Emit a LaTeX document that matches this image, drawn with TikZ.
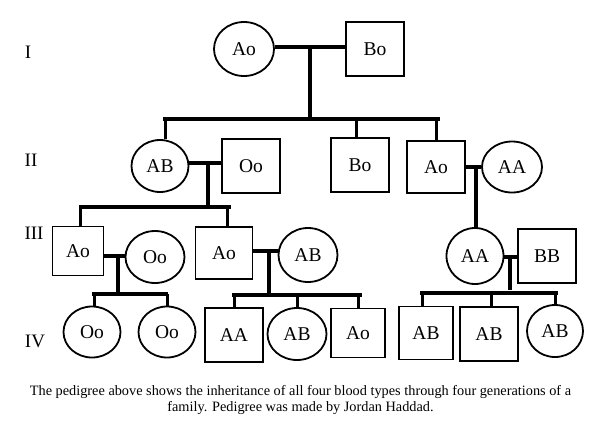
\documentclass[tikz,border=0pt]{standalone}
\usepackage{fontspec}
\setmainfont{Liberation Serif}
\usetikzlibrary{shapes.geometric}

\begin{document}
\begin{tikzpicture}[x=1pt,y=-1pt,
  fem/.style={draw,ellipse,line width=1.8pt,inner sep=0pt,minimum width=58pt,minimum height=53pt,font=\fontsize{19.5}{22}\selectfont},
  male/.style={draw,rectangle,line width=1.8pt,inner sep=0pt,minimum width=58pt,minimum height=54pt,font=\fontsize{19.5}{22}\selectfont},
  gen/.style={font=\fontsize{19}{22}\selectfont},
  couple/.style={line width=3.8pt},
  bar/.style={line width=4.8pt},
  drop/.style={line width=3pt}]
  \useasboundingbox (0,0) rectangle (602,424);

  % generation labels
  \draw (28,52) node[gen] (I) {I};
  \draw (31,160) node[gen] (II) {II};
  \draw (34,233) node[gen] (III) {III};
  \draw (35,341) node[gen] (IV) {IV};

  % generation I
  \draw (244,49) node[fem,minimum width=60pt,minimum height=54pt] (ao1) {Ao};
  \draw (375,49) node[male] (bo1) {Bo};
  \coordinate (m1) at (310,47);
  \coordinate (bar1) at (163,119);
  \coordinate (bar1e) at (440,119);

  % generation II
  \draw (160,166) node[fem,minimum width=57pt,minimum height=52pt] (ab2) {AB};
  \draw (251,166) node[male] (oo2) {Oo};
  \draw (360,165) node[male] (bo2) {Bo};
  \draw (436,167) node[male,minimum height=52pt] (ao2) {Ao};
  \draw (512,167) node[fem,minimum width=60pt,minimum height=51pt] (aa2) {AA};
  \coordinate (m2) at (208,163);
  \coordinate (m3) at (476,167);
  \coordinate (bar2) at (79,207);
  \coordinate (bar2e) at (231,207);

  % generation III
  \draw (78,251) node[male,minimum width=51pt,minimum height=49pt] (ao3) {Ao};
  \draw (155,257) node[fem,minimum width=59pt,minimum height=52pt] (oo3) {Oo};
  \draw (224,253) node[male,minimum width=57pt,minimum height=52pt] (ao3b) {Ao};
  \draw (308,255) node[fem,minimum width=59pt,minimum height=54pt] (ab3) {AB};
  \draw (475,256) node[fem,minimum width=57pt,minimum height=56pt] (aa3) {AA};
  \draw (547,256) node[male] (bb3) {BB};
  \coordinate (m4) at (118,256);
  \coordinate (m5) at (269,251);
  \coordinate (m6) at (510,257);
  \coordinate (bar4) at (92,294);
  \coordinate (bar4e) at (168,294);
  \coordinate (bar5) at (232,295);
  \coordinate (bar5e) at (362,295);
  \coordinate (bar6) at (420,293);
  \coordinate (bar6e) at (558,293);

  % generation IV
  \draw (92,332) node[fem,minimum width=57pt,minimum height=51pt] (oo4) {Oo};
  \draw (167,332) node[fem,minimum width=57pt,minimum height=51pt] (oo4b) {Oo};
  \draw (234,335) node[male] (aa4) {AA};
  \draw (297,334) node[fem,minimum width=59pt,minimum height=52pt] (ab4) {AB};
  \draw (358,333) node[male,minimum width=54pt,minimum height=49pt] (ao4) {Ao};
  \draw (426,333) node[male,minimum width=54pt,minimum height=53pt] (ab4b) {AB};
  \draw (489,334) node[male] (ab4c) {AB};
  \draw (555,331) node[fem,minimum width=56pt,minimum height=52pt] (ab4d) {AB};

  % couples
  \draw[couple] (ao1.east |- m1) -- (bo1.west |- m1);
  \draw[couple] (ab2.east |- m2) -- (oo2.west |- m2);
  \draw[couple] (ao2.east |- m3) -- (aa2.west |- m3);
  \draw[couple] (ao3.east |- m4) -- (oo3.west |- m4);
  \draw[couple] (ao3b.east |- m5) -- (ab3.west |- m5);
  \draw[couple] (aa3.east |- m6) -- (bb3.west |- m6);

  % descent lines
  \draw[drop,line width=3.3pt] (m1) -- (m1 |- bar1);
  \draw[drop,line width=3.3pt] (m2) -- (m2 |- bar2);
  \draw[drop,line width=3.8pt] (m3) -- (m3 |- aa3.north);
  \draw[drop,line width=3.3pt] (m4) -- (m4 |- bar4);
  \draw[drop,line width=3.3pt] (m5) -- (m5 |- bar5);
  \draw[drop,line width=3.3pt] (m6) -- ([yshift=3pt]m6 |- bar6);

  % sibling bars
  \draw[bar] (bar1) -- (bar1e);
  \draw[bar] (bar2) -- (bar2e);
  \draw[bar] (bar4) -- (bar4e);
  \draw[bar] (bar5) -- (bar5e);
  \draw[bar] (bar6) -- (bar6e);

  % children
  \draw[drop] ([xshift=5pt]ab2.north) -- ([xshift=5pt]ab2.north |- bar1);
  \draw[drop] ([xshift=-4pt]bo2.north) -- ([xshift=-4pt]bo2.north |- bar1);
  \draw[drop] (ao2.north) -- (ao2.north |- bar1);
  \draw[drop] ([xshift=2pt]ao3.north) -- ([xshift=2pt]ao3.north |- bar2);
  \draw[drop] ([xshift=3pt]ao3b.north) -- ([xshift=3pt]ao3b.north |- bar2);
  \draw[drop] ([xshift=2pt]oo4.north) -- ([xshift=2pt]oo4.north |- bar4);
  \draw[drop] (oo4b.north) -- (oo4b.north |- bar4);
  \draw[drop] (aa4.north) -- (aa4.north |- bar5);
  \draw[drop] (ab4.north) -- (ab4.north |- bar5);
  \draw[drop] (ao4.north) -- (ao4.north |- bar5);
  \draw[drop] ([xshift=-4pt]ab4b.north) -- ([xshift=-4pt]ab4b.north |- bar6);
  \draw[drop] ([xshift=2pt]ab4c.north) -- ([xshift=2pt]ab4c.north |- bar6);
  \draw[drop] (ab4d.north) -- (ab4d.north |- bar6);

  % caption
  \draw (300.5,399.5) node[align=center,font=\fontsize{14.3}{16}\selectfont] (note)
    {The pedigree above shows the inheritance of all four blood types through four generations of a\\
     family. Pedigree was made by Jordan Haddad.};
\end{tikzpicture}
\end{document}
